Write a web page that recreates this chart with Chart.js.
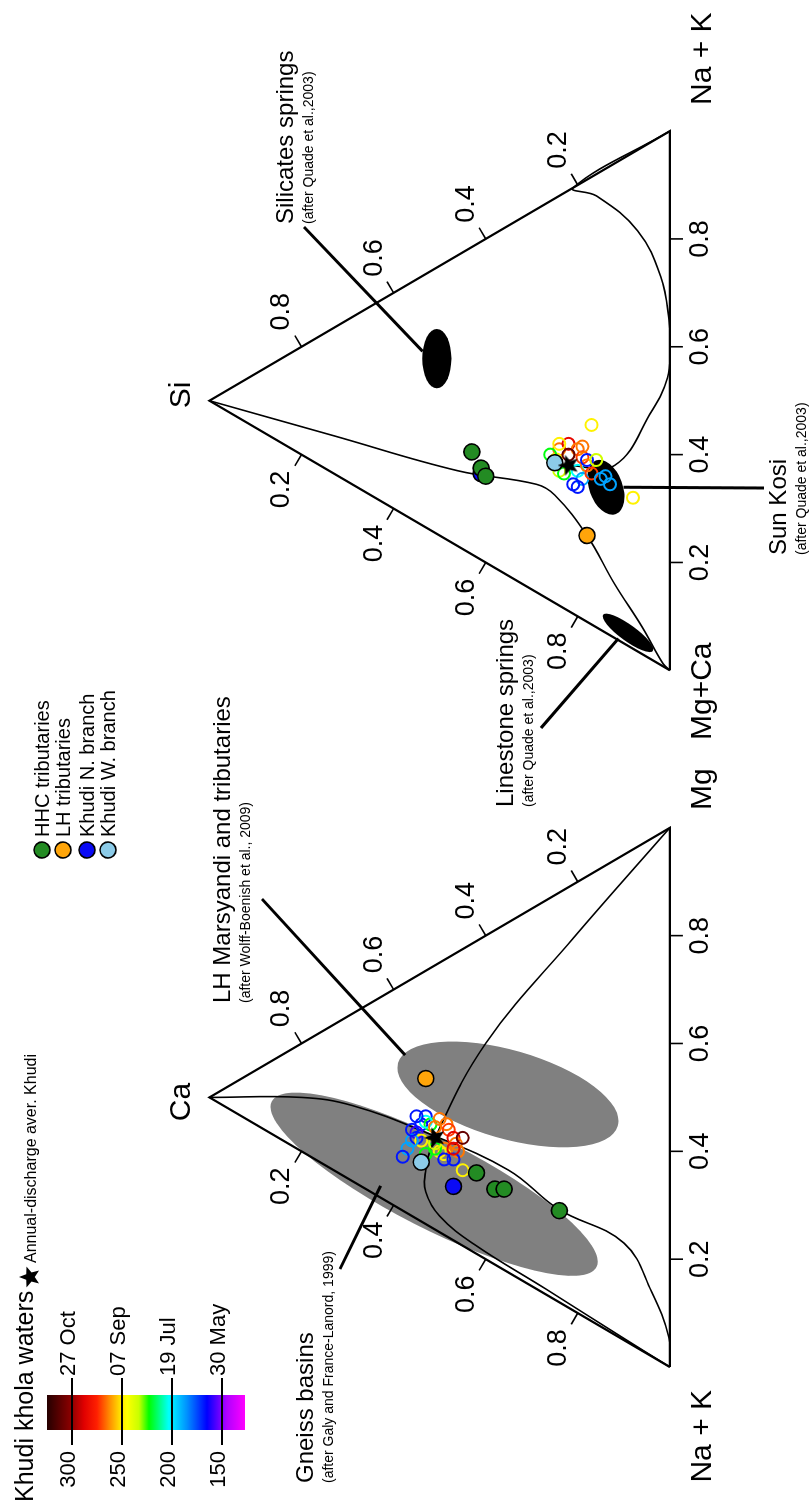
<!DOCTYPE html>
<html>
<head>
<meta charset="utf-8">
<title>Khudi khola ternary diagrams</title>
<script src="https://cdn.jsdelivr.net/npm/chart.js@4.4.1/dist/chart.umd.min.js"></script>
<style>
  html, body { margin: 0; padding: 0; background: #ffffff; overflow: hidden; }
  /* the figure is drawn landscape and turned a quarter turn, as in the paper */
  #rot { position: absolute; left: 0; top: 0; width: 1505px; height: 810px;
         transform-origin: 0 0; transform: translate(0px, 1505px) rotate(-90deg); }
</style>
</head>
<body>
<div id="rot"><canvas id="ternaryChart" width="1505" height="810"></canvas></div>
<script>
// ---------------- data (molar fractions) ----------------
// left diagram: [Na+K, Mg, Ca]
const leftHHC    = [[0.43, 0.15, 0.42], [0.48, 0.14, 0.38], [0.49, 0.15, 0.36], [0.59, 0.17, 0.24]];
const leftLH     = [[0.20, 0.27, 0.53]];
const leftKhudiN = [[0.43, 0.10, 0.47]];
const leftKhudiW = [[0.35, 0.11, 0.54]];
const leftStar   = [[0.32, 0.17, 0.51]];
const leftWaters = [
  [0.27, 0.20, 0.53], [0.28, 0.18, 0.54], [0.29, 0.16, 0.55], [0.30, 0.15, 0.55], [0.31, 0.15, 0.54],
  [0.29, 0.19, 0.52], [0.28, 0.19, 0.53], [0.29, 0.21, 0.50], [0.31, 0.21, 0.49], [0.32, 0.20, 0.48],
  [0.34, 0.19, 0.47], [0.35, 0.18, 0.46], [0.35, 0.20, 0.45], [0.37, 0.17, 0.46], [0.35, 0.16, 0.49],
  [0.35, 0.15, 0.50], [0.36, 0.15, 0.49], [0.34, 0.15, 0.51], [0.31, 0.12, 0.57], [0.30, 0.14, 0.56],
  [0.32, 0.10, 0.58], [0.37, 0.14, 0.49], [0.38, 0.15, 0.47], [0.41, 0.14, 0.45], [0.34, 0.13, 0.53],
  [0.33, 0.16, 0.51], [0.26, 0.19, 0.55], [0.28, 0.16, 0.56], [0.30, 0.19, 0.51], [0.36, 0.17, 0.47]
];
const leftDischarge = [168, 168, 158, 168, 248, 222, 203, 265, 265, 272, 285, 265, 310, 265, 265,
                       248, 248, 222, 188, 188, 168, 168, 168, 248, 222, 235, 168, 168, 265, 285];
// mixing curves
const leftCurveCa = [[0, 0, 1], [0.10, 0.10, 0.80], [0.17, 0.14, 0.69], [0.30, 0.17, 0.53], [0.46, 0.19, 0.35],
                     [0.58, 0.17, 0.24], [0.72, 0.18, 0.10], [0.84, 0.12, 0.04], [0.945, 0.053, 0.002], [1, 0, 0]];
const leftCurveMg = [[0, 1, 0], [0.10, 0.69, 0.21], [0.20, 0.40, 0.40], [0.32, 0.17, 0.51], [0.37, 0.10, 0.53],
                     [0.41, 0.06, 0.53], [0.47, 0.03, 0.50], [0.56, 0.015, 0.425], [0.72, 0.01, 0.27],
                     [0.90, 0.003, 0.097], [1, 0, 0]];

// right diagram: [Mg+Ca, Na+K, Si]
const rightHHC    = [[0.38, 0.19, 0.43], [0.42, 0.17, 0.41], [0.44, 0.16, 0.40]];
const rightLH     = [[0.66, 0.16, 0.18]];
const rightKhudiN = [[0.43, 0.16, 0.41]];
const rightKhudiW = [[0.49, 0.26, 0.25]];
const rightStar   = [[0.51, 0.27, 0.22]];
const rightWaters = [
  [0.47, 0.29, 0.24], [0.47, 0.31, 0.22], [0.49, 0.31, 0.20], [0.51, 0.30, 0.19], [0.49, 0.27, 0.25],
  [0.51, 0.25, 0.24], [0.52, 0.25, 0.23], [0.53, 0.27, 0.20], [0.55, 0.26, 0.19], [0.56, 0.24, 0.20],
  [0.55, 0.24, 0.21], [0.53, 0.29, 0.18], [0.55, 0.28, 0.17], [0.57, 0.28, 0.15], [0.57, 0.29, 0.14],
  [0.59, 0.28, 0.13], [0.46, 0.37, 0.17], [0.64, 0.28, 0.08], [0.49, 0.29, 0.22], [0.46, 0.30, 0.24],
  [0.47, 0.27, 0.26], [0.49, 0.32, 0.19], [0.52, 0.30, 0.18], [0.53, 0.31, 0.16]
];
const rightDischarge = [265, 285, 265, 272, 248, 235, 222, 203, 188, 168, 168, 265, 272, 188, 188,
                        188, 248, 248, 310, 248, 222, 265, 168, 235];
const rightCurveSi = [[0, 0, 1], [0.20, 0.07, 0.73], [0.40, 0.14, 0.46], [0.51, 0.20, 0.29], [0.55, 0.20, 0.25],
                      [0.66, 0.16, 0.18], [0.78, 0.10, 0.12], [0.89, 0.05, 0.06], [0.98, 0.005, 0.015], [1, 0, 0]];
const rightCurveNa = [[0.51, 0.27, 0.22], [0.56, 0.32, 0.12], [0.50, 0.46, 0.04], [0.455, 0.54, 0.005], [0.40, 0.60, 0],
                      [0.35, 0.65, 0.002], [0.26, 0.72, 0.02], [0.15, 0.78, 0.07], [0.04, 0.80, 0.16], [0, 0.79, 0.21], [0, 1, 0]];

// compositional fields (centre, half axes in side units, tilt in degrees)
const gneissField    = { center: [0.405, 0.083, 0.512], a: 0.338, b: 0.082, angle: 63 };
const lhField        = { center: [0.319, 0.330, 0.352], a: 0.212, b: 0.082, angle: 74 };
const silicateField  = { center: [0.169, 0.325, 0.506], a: 0.055, b: 0.027, angle: 0 };
const sunKosiField   = { center: [0.591, 0.270, 0.139], a: 0.053, b: 0.031, angle: 20 };
const limestoneField = { center: [0.885, 0.024, 0.091], a: 0.057, b: 0.015, angle: 54 };

const tickValues = [0.2, 0.4, 0.6, 0.8];
const dischargeTicks = [300, 250, 200, 150];
const dischargeDates = ['27 Oct', '07 Sep', '19 Jul', '30 May'];

// ---------------- helpers ----------------
const H3 = Math.sqrt(3) / 2;
const RIGHT_OFFSET = 1.292;
const FONT = '"Liberation Sans", Arial, Helvetica, sans-serif';

// [left vertex, right vertex, top vertex] -> x/y of the equilateral triangle
function tern(c, off) {
  const s = c[0] + c[1] + c[2];
  const b = c[1] / s, t = c[2] / s;
  return { x: (off || 0) + b + t / 2, y: t * H3 };
}

const colourStops = [[127, '#ff00ff'], [145, '#b000ff'], [165, '#0000ff'], [185, '#0090ff'], [203, '#00ffff'],
                     [223, '#00ff00'], [233, '#c8ff00'], [245, '#ffff00'], [252, '#ffe000'], [262, '#ff9000'],
                     [275, '#ff2000'], [288, '#e00000'], [300, '#900000'], [325, '#250000']];
function hexRgb(h) { return [1, 3, 5].map(i => parseInt(h.substr(i, 2), 16)); }
function colourFor(v) {
  if (v <= colourStops[0][0]) return colourStops[0][1];
  for (let i = 1; i < colourStops.length; i++) {
    if (v <= colourStops[i][0]) {
      const [v0, c0] = colourStops[i - 1], [v1, c1] = colourStops[i];
      const f = (v - v0) / (v1 - v0), a = hexRgb(c0), b = hexRgb(c1);
      return 'rgb(' + a.map((x, k) => Math.round(x + (b[k] - x) * f)).join(',') + ')';
    }
  }
  return colourStops[colourStops.length - 1][1];
}

function makeStar(size) {
  const c = document.createElement('canvas');
  c.width = c.height = size;
  const g = c.getContext('2d');
  g.beginPath();
  for (let i = 0; i < 10; i++) {
    const r = i % 2 === 0 ? size / 2 : size / 4.6;
    const a = -Math.PI / 2 + i * Math.PI / 5;
    g.lineTo(size / 2 + r * Math.cos(a), size / 2 + r * Math.sin(a));
  }
  g.closePath();
  g.fillStyle = '#000';
  g.fill();
  return c;
}
const starImg = makeStar(22);

// ---------------- datasets ----------------
function pts(arr, off) { return arr.map(c => tern(c, off)); }
function lineSet(arr, off, width, tension) {
  return { data: pts(arr, off), showLine: true, borderColor: '#000', borderWidth: width,
           pointRadius: 0, tension: tension, fill: false, order: 5 };
}
function groupSet(arr, off, colour) {
  return { data: pts(arr, off), backgroundColor: colour, borderColor: '#000', borderWidth: 1.6,
           pointRadius: 8, order: 1 };
}
function watersSet(arr, vals, off) {
  return { data: pts(arr, off), backgroundColor: 'rgba(0,0,0,0)', borderColor: vals.map(colourFor),
           borderWidth: 2, pointRadius: 6, order: 2 };
}
const triangle = [[1, 0, 0], [0, 1, 0], [0, 0, 1], [1, 0, 0]];

const groupColours = { hhc: '#238b23', lh: '#ffa50a', kn: '#0a0af5', kw: '#8ccbe8' };

const datasets = [
  { data: pts(leftStar, 0), pointStyle: starImg, pointRadius: 11, order: 0 },
  { data: pts(rightStar, RIGHT_OFFSET), pointStyle: starImg, pointRadius: 11, order: 0 },
  groupSet(leftHHC, 0, groupColours.hhc), groupSet(leftLH, 0, groupColours.lh),
  groupSet(leftKhudiN, 0, groupColours.kn), groupSet(leftKhudiW, 0, groupColours.kw),
  groupSet(rightHHC, RIGHT_OFFSET, groupColours.hhc), groupSet(rightLH, RIGHT_OFFSET, groupColours.lh),
  groupSet(rightKhudiN, RIGHT_OFFSET, groupColours.kn), groupSet(rightKhudiW, RIGHT_OFFSET, groupColours.kw),
  watersSet(leftWaters, leftDischarge, 0),
  watersSet(rightWaters, rightDischarge, RIGHT_OFFSET),
  lineSet(leftCurveCa, 0, 1.6, 0.4), lineSet(leftCurveMg, 0, 1.6, 0.4),
  lineSet(rightCurveSi, RIGHT_OFFSET, 1.6, 0.4), lineSet(rightCurveNa, RIGHT_OFFSET, 1.6, 0.4),
  lineSet(triangle, 0, 2.2, 0), lineSet(triangle, RIGHT_OFFSET, 2.2, 0)
];

// ---------------- plugins ----------------
const fieldsPlugin = {
  id: 'fields',
  beforeDatasetsDraw(chart) {
    const ctx = chart.ctx, xs = chart.scales.x, ys = chart.scales.y;
    const unit = xs.getPixelForValue(1) - xs.getPixelForValue(0);
    const list = [
      [gneissField, 0, '#808080'], [lhField, 0, '#808080'],
      [silicateField, RIGHT_OFFSET, '#000'], [sunKosiField, RIGHT_OFFSET, '#000'], [limestoneField, RIGHT_OFFSET, '#000']
    ];
    list.forEach(([f, off, col]) => {
      const p = tern(f.center, off);
      ctx.save();
      ctx.translate(xs.getPixelForValue(p.x), ys.getPixelForValue(p.y));
      ctx.rotate(-f.angle * Math.PI / 180);
      ctx.beginPath();
      ctx.ellipse(0, 0, f.a * unit, f.b * unit, 0, 0, 2 * Math.PI);
      ctx.fillStyle = col;
      ctx.fill();
      ctx.restore();
    });
  }
};

function drawTernaryAxes(chart, off, names, nameSpots) {
  const ctx = chart.ctx, xs = chart.scales.x, ys = chart.scales.y;
  const P = c => { const p = tern(c, off); return [xs.getPixelForValue(p.x), ys.getPixelForValue(p.y)]; };
  const V = [P([1, 0, 0]), P([0, 1, 0]), P([0, 0, 1])];
  const cx = (V[0][0] + V[1][0] + V[2][0]) / 3, cy = (V[0][1] + V[1][1] + V[2][1]) / 3;
  // base labels 2nd component, right side the top one, left side the 1st one
  const edges = [
    t => [1 - t, t, 0],
    t => [0, 1 - t, t],
    t => [t, 0, 1 - t]
  ];
  ctx.save();
  ctx.strokeStyle = '#000';
  ctx.lineWidth = 1.6;
  ctx.fillStyle = '#000';
  ctx.font = '27px ' + FONT;
  ctx.textAlign = 'center';
  ctx.textBaseline = 'middle';
  edges.forEach(mk => {
    tickValues.forEach(t => {
      const [px, py] = P(mk(t));
      const a = P(mk(0)), b = P(mk(1));
      let nx = -(b[1] - a[1]), ny = b[0] - a[0];
      const len = Math.hypot(nx, ny); nx /= len; ny /= len;
      if ((px - cx) * nx + (py - cy) * ny < 0) { nx = -nx; ny = -ny; }
      ctx.beginPath();
      ctx.moveTo(px, py);
      ctx.lineTo(px + nx * 13, py + ny * 13);
      ctx.stroke();
      const label = t.toFixed(1);
      const w = ctx.measureText(label).width, h = 21;
      const d = 19 + Math.abs(nx) * w / 2 + Math.abs(ny) * h / 2;
      ctx.fillText(label, px + nx * d, py + ny * d + 1);
    });
  });
  ctx.font = '30px ' + FONT;
  ctx.textBaseline = 'alphabetic';
  names.forEach((n, i) => {
    const s = nameSpots[i];
    ctx.textAlign = s[2];
    ctx.fillText(n, s[0], s[1]);
  });
  ctx.restore();
}

const annotations = [
  { title: 'LH Marsyandi and tributaries', sub: '(after Wolff-Boenish et al., 2009)', x: 502, y: 230,
    from: [606, 262], to: [[0.134, 0.291, 0.575], 0] },
  { title: 'Gneiss basins', sub: '(after Galy and France-Lanord, 1999)', x: 22, y: 313,
    from: [236, 340], to: [[0.350, 0.022, 0.628], 0] },
  { title: 'Linestone springs', sub: '(after Quade et al.,2003)', x: 698, y: 513,
    from: [777, 541], to: [[0.886, 0.003, 0.112], RIGHT_OFFSET] },
  { title: 'Silicates springs', sub: '(after Quade et al.,2003)', x: 1281, y: 293,
    from: [1278, 304], to: [[0.140, 0.323, 0.537], RIGHT_OFFSET] },
  { title: 'Sun Kosi', sub: '(after Quade et al.,2003)', x: 950, y: 786,
    from: [1017, 764], to: [[0.610, 0.289, 0.101], RIGHT_OFFSET] }
];

const overlayPlugin = {
  id: 'overlay',
  afterDraw(chart) {
    const ctx = chart.ctx, xs = chart.scales.x, ys = chart.scales.y;
    drawTernaryAxes(chart, 0, ['Na + K', 'Mg', 'Ca'],
      [[115, 711, 'right'], [695, 711, 'left'], [403, 190, 'center']]);
    drawTernaryAxes(chart, RIGHT_OFFSET, ['Mg+Ca', 'Na + K', 'Si'],
      [[765, 711, 'left'], [1400, 711, 'left'], [1110, 190, 'center']]);

    ctx.save();
    ctx.fillStyle = '#000';
    ctx.strokeStyle = '#000';
    // field labels and leaders
    annotations.forEach(a => {
      ctx.textAlign = 'left';
      ctx.textBaseline = 'alphabetic';
      ctx.font = '24px ' + FONT;
      ctx.fillText(a.title, a.x, a.y);
      ctx.font = '14px ' + FONT;
      ctx.fillText(a.sub, a.x, a.y + 20);
      const e = tern(a.to[0], a.to[1]);
      ctx.lineWidth = 3;
      ctx.beginPath();
      ctx.moveTo(a.from[0], a.from[1]);
      ctx.lineTo(xs.getPixelForValue(e.x), ys.getPixelForValue(e.y));
      ctx.stroke();
    });

    // discharge colour bar
    ctx.font = '25px ' + FONT;
    ctx.fillText('Khudi khola waters', 3, 33);
    const top = 47, bottom = 245, vTop = 325, vBottom = 127;
    const grad = ctx.createLinearGradient(0, top, 0, bottom);
    colourStops.forEach(([v, c]) => grad.addColorStop((vTop - v) / (vTop - vBottom), c));
    ctx.fillStyle = grad;
    ctx.fillRect(75, top, 35, bottom - top);
    ctx.fillStyle = '#000';
    ctx.lineWidth = 2;
    ctx.font = '22px ' + FONT;
    dischargeTicks.forEach((v, i) => {
      const yy = top + (vTop - v) * (bottom - top) / (vTop - vBottom);
      ctx.beginPath();
      ctx.moveTo(60, yy); ctx.lineTo(127, yy); ctx.stroke();
      ctx.textAlign = 'right';
      ctx.fillText(String(v), 54, yy + 3);
      ctx.textAlign = 'left';
      ctx.fillText(dischargeDates[i], 129, yy + 3);
    });

    // star legend
    ctx.drawImage(starImg, 217, 19, 22, 22);
    ctx.font = '16px ' + FONT;
    ctx.textAlign = 'left';
    ctx.fillText('Annual-discharge aver. Khudi', 242, 36);

    // group legend
    const groups = [['HHC tributaries', groupColours.hhc], ['LH tributaries', groupColours.lh],
                    ['Khudi N. branch', groupColours.kn], ['Khudi W. branch', groupColours.kw]];
    const rows = [42, 63, 87, 108];
    ctx.font = '20px ' + FONT;
    groups.forEach(([name, col], i) => {
      ctx.beginPath();
      ctx.arc(655, rows[i], 8, 0, 2 * Math.PI);
      ctx.fillStyle = col; ctx.fill();
      ctx.lineWidth = 1.6; ctx.stroke();
      ctx.fillStyle = '#000';
      ctx.fillText(name, 668, rows[i] + 7);
    });
    ctx.restore();
  }
};

// ---------------- chart ----------------
const ternaryChart = new Chart(document.getElementById('ternaryChart').getContext('2d'), {
  type: 'scatter',
  data: { datasets: datasets },
  options: {
    responsive: false,
    animation: false,
    events: [],
    layout: { padding: 0 },
    plugins: { legend: { display: false }, tooltip: { enabled: false } },
    scales: {
      x: { type: 'linear', min: -0.2336, max: 2.5128, display: false },
      y: { type: 'linear', min: -0.2409, max: 1.2372, display: false }
    }
  },
  plugins: [fieldsPlugin, overlayPlugin]
});
</script>
</body>
</html>
